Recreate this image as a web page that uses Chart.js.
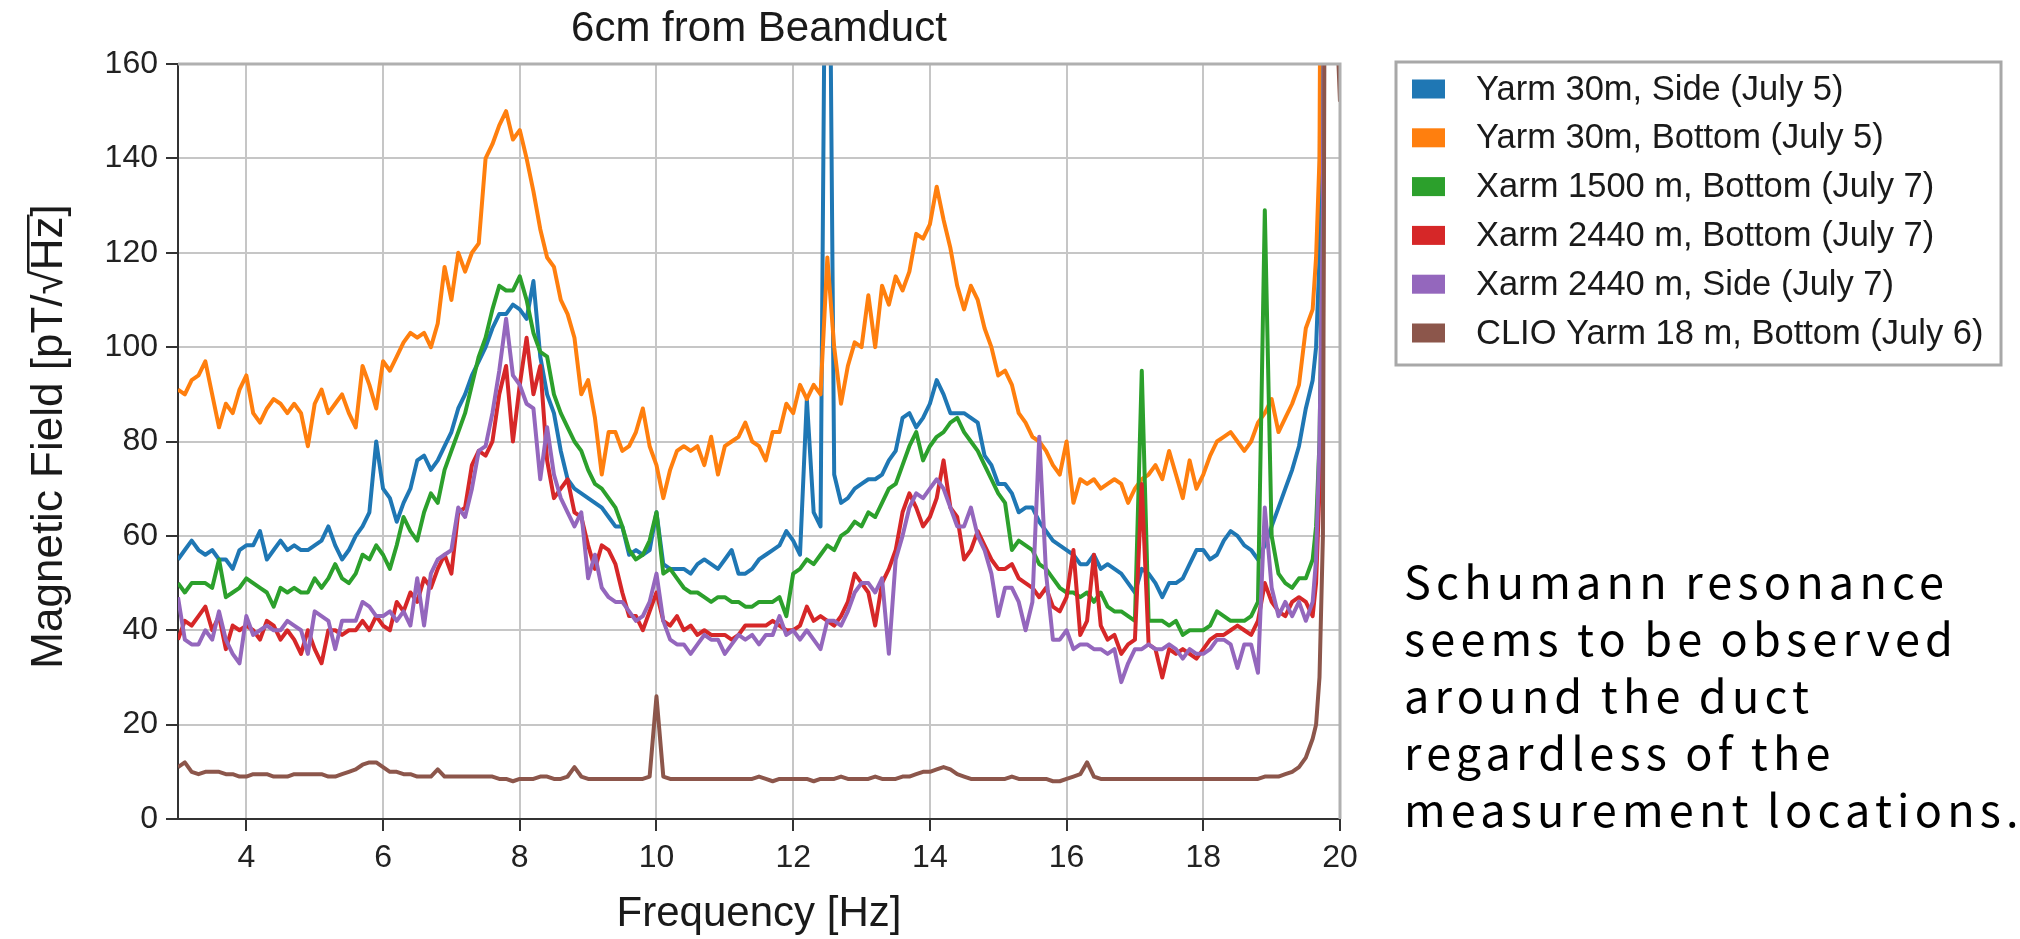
<!DOCTYPE html>
<html>
<head>
<meta charset="utf-8">
<title>6cm from Beamduct</title>
<script src="https://cdn.jsdelivr.net/npm/chart.js@4.4.1/dist/chart.umd.min.js"></script>
<style>
  html, body { margin: 0; padding: 0; background: #fff; }
  #wrap { position: relative; width: 2020px; height: 939px; }
  #note {
    position: absolute; left: 1404px; top: 551px;
    font-family: "Noto Sans CJK JP", sans-serif; font-size: 45px; line-height: 57px;
    letter-spacing: 5.2px; word-spacing: -2px; color: #000; white-space: nowrap;
  }
</style>
</head>
<body>
<div id="wrap">
  <canvas id="psdChart" width="2020" height="939"></canvas>
  <div id="note">Schumann resonance<br>seems to be observed<br>around the duct<br>regardless of the<br>measurement locations.</div>
</div>
<script>
const chartTitle = "6cm from Beamduct";
const xAxisTitle = "Frequency [Hz]";

const xTickValues = [4, 6, 8, 10, 12, 14, 16, 18, 20];
const yTickValues = [0, 20, 40, 60, 80, 100, 120, 140, 160];

const seriesLabels = [
  "Yarm 30m, Side (July 5)",
  "Yarm 30m, Bottom (July 5)",
  "Xarm 1500 m, Bottom (July 7)",
  "Xarm 2440 m, Bottom (July 7)",
  "Xarm 2440 m, Side (July 7)",
  "CLIO Yarm 18 m, Bottom (July 6)"
];
const seriesColors = ["#1f77b4", "#ff7f0e", "#2ca02c", "#d62728", "#9467bd", "#8c564b"];

// frequency bins [Hz]
const frequencyHz = [
  3.0, 3.1, 3.2, 3.3, 3.4, 3.5, 3.6, 3.7, 3.8, 3.9,
  4.0, 4.1, 4.2, 4.3, 4.4, 4.5, 4.6, 4.7, 4.8, 4.9,
  5.0, 5.1, 5.2, 5.3, 5.4, 5.5, 5.6, 5.7, 5.8, 5.9,
  6.0, 6.1, 6.2, 6.3, 6.4, 6.5, 6.6, 6.7, 6.8, 6.9,
  7.0, 7.1, 7.2, 7.3, 7.4, 7.5, 7.6, 7.7, 7.8, 7.9,
  8.0, 8.1, 8.2, 8.3, 8.4, 8.5, 8.6, 8.7, 8.8, 8.9,
  9.0, 9.1, 9.2, 9.3, 9.4, 9.5, 9.6, 9.7, 9.8, 9.9,
  10.0, 10.1, 10.2, 10.3, 10.4, 10.5, 10.6, 10.7, 10.8, 10.9,
  11.0, 11.1, 11.2, 11.3, 11.4, 11.5, 11.6, 11.7, 11.8, 11.9,
  12.0, 12.1, 12.2, 12.3, 12.4, 12.5, 12.6, 12.7, 12.8, 12.9,
  13.0, 13.1, 13.2, 13.3, 13.4, 13.5, 13.6, 13.7, 13.8, 13.9,
  14.0, 14.1, 14.2, 14.3, 14.4, 14.5, 14.6, 14.7, 14.8, 14.9,
  15.0, 15.1, 15.2, 15.3, 15.4, 15.5, 15.6, 15.7, 15.8, 15.9,
  16.0, 16.1, 16.2, 16.3, 16.4, 16.5, 16.6, 16.7, 16.8, 16.9,
  17.0, 17.1, 17.2, 17.3, 17.4, 17.5, 17.6, 17.7, 17.8, 17.9,
  18.0, 18.1, 18.2, 18.3, 18.4, 18.5, 18.6, 18.7, 18.8, 18.9,
  19.0, 19.1, 19.2, 19.3, 19.4, 19.5, 19.6,
  19.65, 19.7, 19.75, 19.8, 19.85, 19.9, 19.95, 20.0
];

// pT/rtHz
const yarm30Side = [
  55, 57, 59, 57, 56, 57, 55, 55, 53, 57,
  58, 58, 61, 55, 57, 59, 57, 58, 57, 57,
  58, 59, 62, 58, 55, 57, 60, 62, 65, 80,
  70, 68, 63, 67, 70, 76, 77, 74, 76, 79,
  82, 87, 90, 94, 97, 100, 104, 107, 107, 109,
  108, 106, 114, 98, 90, 86, 78, 72, 70, 69,
  68, 67, 66, 64, 62, 62, 56, 57, 56, 57,
  65, 54, 53, 53, 53, 52, 54, 55, 54, 53,
  55, 57, 52, 52, 53, 55, 56, 57, 58, 61,
  59, 56, 89, 65, 62, 250, 73, 67, 68, 70,
  71, 72, 72, 73, 76, 78, 85, 86, 83, 85,
  88, 93, 90, 86, 86, 86, 85, 84, 77, 75,
  71, 71, 69, 65, 66, 66, 63, 61, 59, 58,
  57, 56, 54, 54, 56, 53, 54, 53, 52, 50,
  48, 53, 52, 50, 47, 50, 50, 51, 54, 57,
  57, 55, 56, 59, 61, 60, 58, 57, 55, 58,
  62, 66, 70, 74, 79, 87, 93,
  100, 119, 300, 300, 300, 300, 300, 300
];
const yarm30Bottom = [
  91, 90, 93, 94, 97, 90, 83, 88, 86, 91,
  94, 86, 84, 87, 89, 88, 86, 88, 86, 79,
  88, 91, 86, 88, 90, 86, 83, 96, 92, 87,
  97, 95, 98, 101, 103, 102, 103, 100, 105, 117,
  110, 120, 116, 120, 122, 140, 143, 147, 150, 144,
  146, 140, 133, 125, 119, 117, 110, 107, 102, 90,
  93, 85, 73, 82, 82, 78, 79, 82, 87, 79,
  75, 68, 74, 78, 79, 78, 79, 75, 81, 73,
  79, 80, 81, 84, 80, 79, 76, 82, 82, 88,
  86, 92, 89, 92, 90, 119, 100, 88, 96, 101,
  100, 111, 100, 113, 109, 115, 112, 116, 124, 123,
  126, 134, 127, 121, 113, 108, 113, 110, 104, 100,
  94, 95, 92, 86, 84, 81, 80, 78, 75, 73,
  80, 67, 72, 71, 72, 70, 71, 72, 71, 67,
  70, 72, 73, 75, 72, 78, 73, 68, 76, 70,
  73, 77, 80, 81, 82, 80, 78, 80, 84, 86,
  89, 82, 85, 88, 92, 104, 108,
  119, 140, 300, 300, 300, 300, 300, 300
];
const xarm1500Bottom = [
  50, 48, 50, 50, 50, 49, 55, 47, 48, 49,
  51, 50, 49, 48, 45, 49, 48, 49, 48, 48,
  51, 49, 51, 54, 51, 50, 52, 56, 55, 58,
  56, 53, 58, 64, 61, 59, 65, 69, 67, 74,
  78, 82, 86, 92, 98, 102, 108, 113, 112, 112,
  115, 110, 103, 99, 98, 90, 86, 83, 80, 78,
  74, 71, 70, 68, 66, 62, 57, 55, 56, 59,
  65, 52, 53, 51, 49, 48, 48, 47, 46, 47,
  47, 46, 46, 45, 45, 46, 46, 46, 47, 43,
  52, 53, 55, 54, 56, 58, 57, 60, 61, 63,
  62, 65, 64, 67, 70, 71, 75, 79, 82, 76,
  79, 81, 82, 84, 85, 82, 80, 78, 75, 72,
  69, 67, 57, 59, 58, 57, 54, 53, 51, 49,
  48, 48, 47, 48, 46, 48, 45, 44, 44, 43,
  42, 95, 42, 42, 42, 41, 42, 39, 40, 40,
  40, 41, 44, 43, 42, 42, 42, 43, 46, 129,
  60, 52, 50, 49, 51, 51, 55,
  62, 80, 130, 300, 300, 300, 300, 300
];
const xarm2440Bottom = [
  38, 42, 41, 43, 45, 40, 43, 36, 41, 40,
  41, 40, 38, 42, 41, 38, 40, 38, 35, 40,
  36, 33, 40, 40, 39, 40, 40, 42, 40, 43,
  41, 40, 46, 44, 48, 46, 51, 49, 53, 56,
  52, 65, 66, 75, 78, 77, 80, 90, 96, 80,
  92, 102, 90, 96, 76, 68, 70, 72, 65, 64,
  58, 53, 58, 57, 54, 48, 43, 43, 40, 44,
  48, 42, 41, 43, 40, 41, 39, 40, 39, 39,
  39, 38, 39, 41, 41, 41, 41, 42, 41, 40,
  40, 41, 45, 42, 43, 42, 41, 43, 46, 52,
  50, 48, 41, 50, 53, 57, 65, 69, 66, 62,
  64, 68, 76, 66, 64, 55, 57, 61, 58, 55,
  53, 53, 54, 51, 50, 49, 47, 49, 45, 44,
  47, 57, 39, 42, 56, 41, 38, 39, 35, 37,
  38, 71, 37, 36, 30, 36, 35, 36, 35, 34,
  36, 38, 39, 39, 40, 41, 40, 39, 42, 50,
  46, 44, 43, 46, 47, 46, 43,
  50, 70, 100, 300, 300, 300, 300, 300
];
const xarm2440Side = [
  47, 38, 37, 37, 40, 38, 44, 38, 35, 33,
  43, 39, 40, 41, 40, 40, 42, 41, 40, 35,
  44, 43, 42, 36, 42, 42, 42, 46, 45, 43,
  43, 44, 42, 44, 41, 51, 41, 52, 55, 56,
  57, 66, 64, 70, 78, 79, 86, 95, 106, 94,
  92, 88, 87, 72, 83, 73, 68, 65, 62, 65,
  51, 56, 49, 47, 46, 46, 44, 42, 43, 46,
  52, 42, 38, 37, 37, 35, 37, 39, 38, 38,
  35, 37, 39, 38, 39, 37, 39, 39, 43, 39,
  40, 38, 40, 38, 36, 42, 42, 41, 44, 48,
  50, 50, 48, 51, 35, 55, 60, 66, 69, 68,
  70, 72, 70, 66, 62, 62, 66, 60, 57, 52,
  43, 49, 49, 46, 40, 46, 81, 52, 38, 38,
  40, 36, 37, 37, 36, 36, 35, 36, 29, 33,
  36, 36, 37, 36, 36, 37, 36, 34, 36, 35,
  35, 36, 38, 38, 37, 32, 37, 37, 31, 66,
  49, 43, 46, 43, 46, 42, 46,
  55, 80, 130, 300, 300, 300, 300, 300
];
const clioYarm18Bottom = [
  11, 12, 10, 9.5, 10, 10, 10, 9.5, 9.5, 9,
  9, 9.5, 9.5, 9.5, 9, 9, 9, 9.5, 9.5, 9.5,
  9.5, 9.5, 9, 9, 9.5, 10, 10.5, 11.5, 12, 12,
  11, 10, 10, 9.5, 9.5, 9, 9, 9, 10.5, 9,
  9, 9, 9, 9, 9, 9, 9, 8.5, 8.5, 8,
  8.5, 8.5, 8.5, 9, 9, 8.5, 8.5, 9, 11, 9,
  8.5, 8.5, 8.5, 8.5, 8.5, 8.5, 8.5, 8.5, 8.5, 9,
  26, 9, 8.5, 8.5, 8.5, 8.5, 8.5, 8.5, 8.5, 8.5,
  8.5, 8.5, 8.5, 8.5, 8.5, 9, 8.5, 8, 8.5, 8.5,
  8.5, 8.5, 8.5, 8, 8.5, 8.5, 8.5, 9, 8.5, 8.5,
  8.5, 8.5, 9, 8.5, 8.5, 8.5, 9, 9, 9.5, 10,
  10, 10.5, 11, 10.5, 9.5, 9, 8.5, 8.5, 8.5, 8.5,
  8.5, 8.5, 9, 8.5, 8.5, 8.5, 8.5, 8.5, 8, 8,
  8.5, 9, 9.5, 12, 9, 8.5, 8.5, 8.5, 8.5, 8.5,
  8.5, 8.5, 8.5, 8.5, 8.5, 8.5, 8.5, 8.5, 8.5, 8.5,
  8.5, 8.5, 8.5, 8.5, 8.5, 8.5, 8.5, 8.5, 8.5, 9,
  9, 9, 9.5, 10, 11, 13, 17,
  20, 30, 60, 300, 300, 300, 170, 152
];

const seriesValues = [yarm30Side, yarm30Bottom, xarm1500Bottom, xarm2440Bottom, xarm2440Side, clioYarm18Bottom];

const FONT = '"Liberation Sans", Arial, Helvetica, sans-serif';

// titles, frame and boxed legend, drawn on top like matplotlib does
const decorPlugin = {
  id: "decor",
  afterDraw(chart) {
    const ctx = chart.ctx;
    const area = chart.chartArea;
    const cx = (area.left + area.right) / 2;
    ctx.save();

    // top/right spines
    ctx.strokeStyle = "#b0b0b0";
    ctx.lineWidth = 3;
    ctx.beginPath();
    ctx.moveTo(area.left, area.top);
    ctx.lineTo(area.right, area.top);
    ctx.lineTo(area.right, area.bottom);
    ctx.stroke();

    ctx.fillStyle = "#1a1a1a";
    ctx.textAlign = "center";
    ctx.textBaseline = "middle";
    ctx.font = "42px " + FONT;
    ctx.fillText(chartTitle, cx, 29);
    ctx.font = "42px " + FONT;
    ctx.fillText(xAxisTitle, cx, 914);

    // y title with sqrt overline
    ctx.save();
    ctx.translate(46, (area.top + area.bottom) / 2 - 5);
    ctx.rotate(-Math.PI / 2);
    ctx.font = "44px " + FONT;
    ctx.textAlign = "left";
    ctx.textBaseline = "alphabetic";
    const parts = ["Magnetic Field [pT/", "\u221A", "Hz", "]"];
    const widths = parts.map(p => ctx.measureText(p).width);
    const total = widths.reduce((a, b) => a + b, 0);
    const base = 16;
    let x = -total / 2;
    let rootEnd = 0;
    parts.forEach((p, i) => {
      ctx.fillText(p, x, base);
      x += widths[i];
      if (i === 1) rootEnd = x;
      if (i === 2) ctx.fillRect(rootEnd - 2, base - 35, x - rootEnd + 4, 2.5);
    });
    ctx.restore();

    // legend
    ctx.fillStyle = "#fff";
    ctx.fillRect(1396, 62, 605, 303);
    ctx.strokeStyle = "#a8a8a8";
    ctx.lineWidth = 3;
    ctx.strokeRect(1396, 62, 605, 303);
    ctx.font = "34.5px " + FONT;
    ctx.textAlign = "left";
    ctx.textBaseline = "middle";
    chart.data.datasets.forEach((ds, i) => {
      const y = 89 + i * 48.8;
      ctx.fillStyle = ds.borderColor;
      ctx.fillRect(1412, y - 9.5, 33, 19);
      ctx.fillStyle = "#1a1a1a";
      ctx.fillText(ds.label, 1476, y + 1);
    });

    ctx.restore();
  }
};

const tickFont = { family: FONT, size: 32 };

new Chart(document.getElementById("psdChart"), {
  type: "line",
  data: {
    datasets: seriesValues.map((vals, i) => ({
      label: seriesLabels[i],
      data: frequencyHz.map((f, j) => ({ x: f, y: vals[j] })),
      borderColor: seriesColors[i],
      backgroundColor: seriesColors[i],
      borderWidth: 4,
      borderJoinStyle: "round",
      pointRadius: 0,
      fill: false,
      tension: 0,
      clip: 0,
      order: seriesValues.length - 1 - i
    }))
  },
  options: {
    responsive: false,
    animation: false,
    devicePixelRatio: 1,
    layout: { padding: { left: 0, top: 64, right: 680, bottom: 0 } },
    plugins: {
      legend: { display: false },
      tooltip: { enabled: false },
      title: { display: false }
    },
    scales: {
      x: {
        type: "linear",
        min: 3,
        max: 20,
        afterBuildTicks: s => { s.ticks = xTickValues.map(v => ({ value: v })); },
        afterFit: s => { s.height = 120; },
        ticks: { font: tickFont, color: "#222", padding: 8, maxRotation: 0, autoSkip: false },
        grid: { color: "#c6c6c6", lineWidth: 2, tickLength: 12, tickColor: "#333", tickWidth: 2 },
        border: { display: true, color: "#333", width: 2 }
      },
      y: {
        type: "linear",
        min: 0,
        max: 160,
        afterBuildTicks: s => { s.ticks = yTickValues.map(v => ({ value: v })); },
        afterFit: s => { s.width = 178; },
        ticks: { font: tickFont, color: "#222", padding: 8 },
        grid: { color: "#c6c6c6", lineWidth: 2, tickLength: 12, tickColor: "#333", tickWidth: 2 },
        border: { display: true, color: "#333", width: 2 }
      }
    }
  },
  plugins: [decorPlugin]
});
</script>
</body>
</html>
